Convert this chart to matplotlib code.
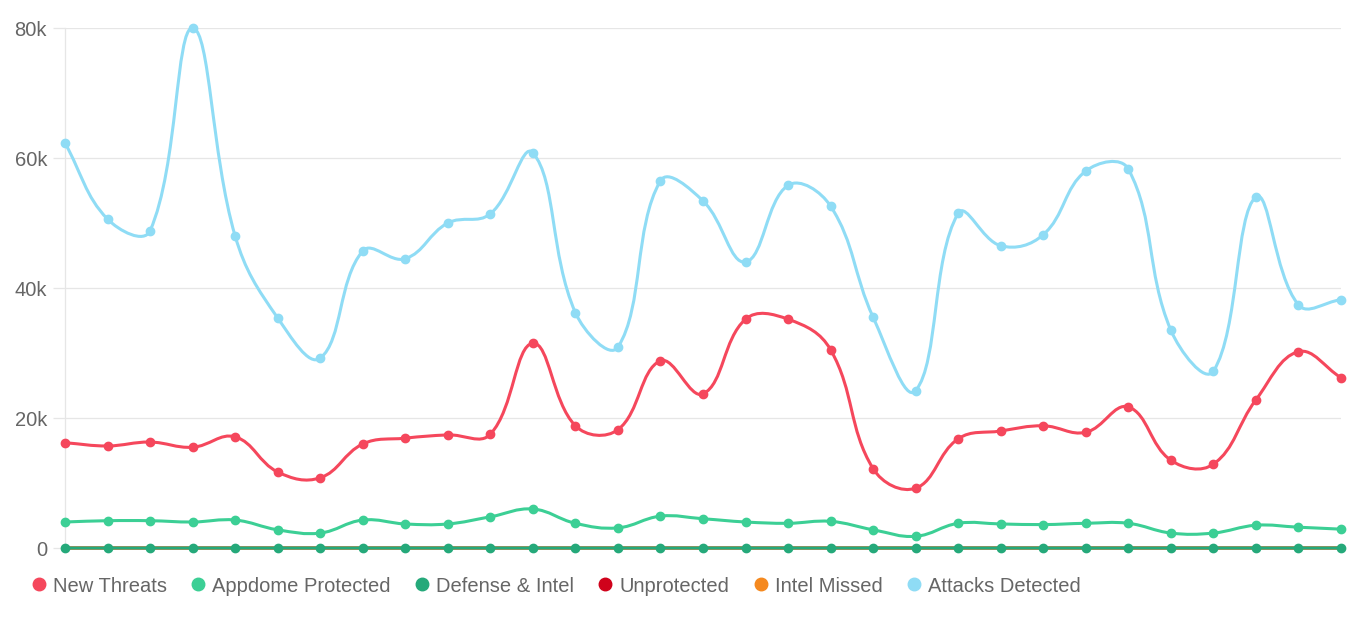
import matplotlib
matplotlib.use("Agg")
import math
import matplotlib.pyplot as plt
from matplotlib.path import Path
from matplotlib.patches import PathPatch
from matplotlib.lines import Line2D
from matplotlib.ticker import FuncFormatter, FixedLocator

plt.rcParams['font.family'] = ['Liberation Sans', 'DejaVu Sans']

series_names = ["New Threats", "Appdome Protected", "Defense & Intel",
                "Unprotected", "Intel Missed", "Attacks Detected"]
series_colors = ["#f5475c", "#3ccf95", "#25a97a", "#d0021b", "#f5891f", "#8fdcf5"]

new_threats = [16.2, 15.7, 16.3, 15.5, 17.1, 11.7, 10.8, 16.0, 16.9, 17.4, 17.5, 31.5,
               18.8, 18.2, 28.8, 23.7, 35.2, 35.2, 30.5, 12.2, 9.2, 16.8, 18.0, 18.8,
               17.8, 21.7, 13.5, 12.9, 22.8, 30.2, 26.2]
appdome_protected = [4.0, 4.2, 4.2, 4.0, 4.3, 2.8, 2.3, 4.3, 3.7, 3.7, 4.8, 6.0,
                     3.8, 3.1, 4.9, 4.5, 4.0, 3.8, 4.1, 2.8, 1.8, 3.8, 3.7, 3.6,
                     3.8, 3.8, 2.3, 2.3, 3.5, 3.2, 2.9]
defense_intel = [0.0] * 31
unprotected = [0.0] * 31
intel_missed = [0.0] * 31
attacks_detected = [62.3, 50.6, 48.8, 80.0, 48.0, 35.4, 29.2, 45.7, 44.5, 50.0, 51.4, 60.8,
                    36.2, 30.9, 56.5, 53.4, 44.0, 55.8, 52.6, 35.5, 24.2, 51.5, 46.5, 48.2,
                    58.0, 58.3, 33.5, 27.2, 54.0, 37.4, 38.2]

all_series = [new_threats, appdome_protected, defense_intel, unprotected,
              intel_missed, attacks_detected]
series_z = [4, 3, 3.5, 2, 2.5, 5]
series_markers = [True, True, True, False, False, True]

y_ticks = [0, 20000, 40000, 60000, 80000]


def spline_path(ax, xs, ys, tension=0.4):
    """Tension spline (distance weighted) computed in display space."""
    trans = ax.transData
    inv = trans.inverted()
    pts = [tuple(trans.transform((a, b))) for a, b in zip(xs, ys)]
    n = len(pts)
    prev_c = [None] * n
    next_c = [None] * n
    for i in range(n):
        p0 = pts[i - 1] if i > 0 else pts[i]
        p1 = pts[i]
        p2 = pts[i + 1] if i < n - 1 else pts[i]
        d01 = math.hypot(p1[0] - p0[0], p1[1] - p0[1])
        d12 = math.hypot(p2[0] - p1[0], p2[1] - p1[1])
        s01 = d01 / (d01 + d12) if (d01 + d12) > 0 else 0
        s12 = d12 / (d01 + d12) if (d01 + d12) > 0 else 0
        fa = tension * s01
        fb = tension * s12
        prev_c[i] = (p1[0] - fa * (p2[0] - p0[0]), p1[1] - fa * (p2[1] - p0[1]))
        next_c[i] = (p1[0] + fb * (p2[0] - p0[0]), p1[1] + fb * (p2[1] - p0[1]))
    verts = [pts[0]]
    codes = [Path.MOVETO]
    for i in range(1, n):
        verts += [next_c[i - 1], prev_c[i], pts[i]]
        codes += [Path.CURVE4] * 3
    verts = [tuple(inv.transform(v)) for v in verts]
    return Path(verts, codes)


fig = plt.figure(figsize=(13.57, 6.2), dpi=100)
ax = fig.add_axes([65 / 1357, 1 - 548 / 620, (1341 - 65) / 1357, (548 - 28) / 620])
ax.set_xlim(0, 30)
ax.set_ylim(0, 80000)

grid_c = "#e6e6e6"
x = list(range(len(attacks_detected)))
for vals, col, z, mk in zip(all_series, series_colors, series_z, series_markers):
    yv = [v * 1000 for v in vals]
    p = spline_path(ax, x, yv)
    ax.add_patch(PathPatch(p, facecolor="none", edgecolor=col, lw=2.2, zorder=z,
                           clip_on=False, capstyle="round", joinstyle="round"))
    if mk:
        ax.plot(x, yv, linestyle="none", marker="o", ms=6, color=col, mec=col,
                zorder=z + 0.1, clip_on=False)

ax.yaxis.set_major_locator(FixedLocator(y_ticks))
ax.yaxis.set_major_formatter(FuncFormatter(lambda v, p: "0" if v == 0 else f"{int(v/1000)}k"))
ax.set_xticks([])
ax.grid(axis="y", color=grid_c, lw=0.9, zorder=0)
ax.set_axisbelow(True)
for s in ["top", "right", "bottom"]:
    ax.spines[s].set_visible(False)
ax.spines["left"].set_color(grid_c)
ax.spines["left"].set_linewidth(0.9)
ax.tick_params(axis="y", length=8.6, width=0.9, color=grid_c, pad=4.3,
               labelsize=14.5, labelcolor="#666666")

handles = [Line2D([], [], linestyle="none", marker="o", ms=9, color=c) for c in series_colors]
fig.legend(handles, series_names, ncol=6, loc="center left",
           bbox_to_anchor=(31 / 1357, 1 - 586 / 620), frameon=False,
           fontsize=14.5, labelcolor="#666666", handlelength=0.8, handletextpad=0.3,
           columnspacing=1.15, borderpad=0, borderaxespad=0)

fig.savefig("out.png", dpi=100, facecolor="white")
